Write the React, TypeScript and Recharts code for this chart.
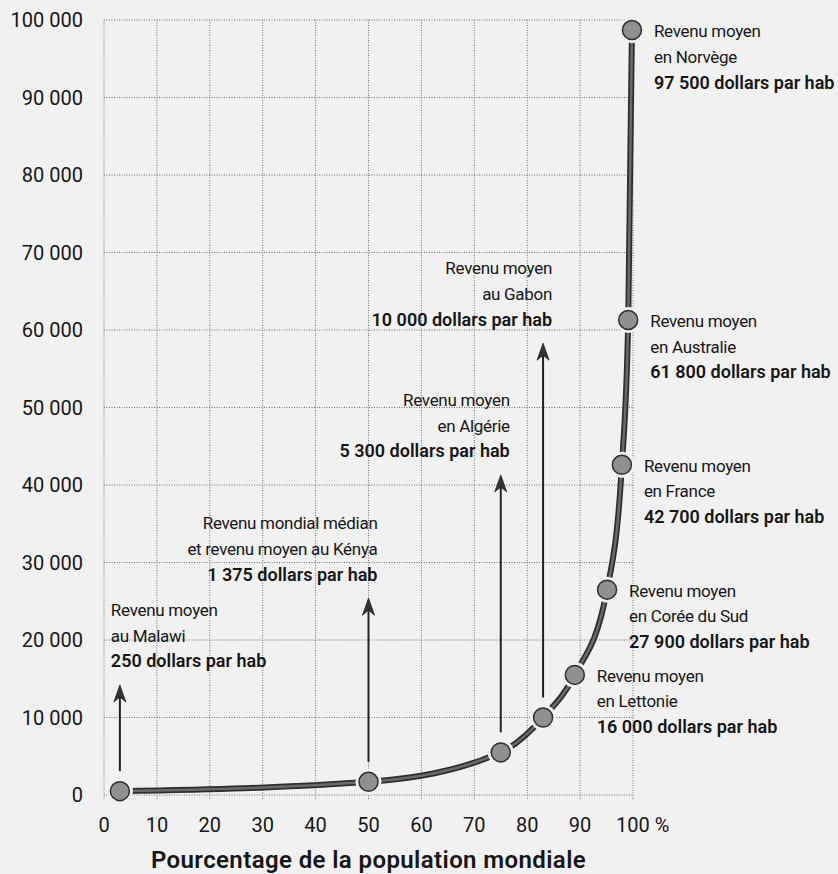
import React from 'react';
import { ComposedChart, Line, XAxis, YAxis, CartesianGrid, ReferenceLine, ReferenceDot } from 'recharts';

// ---- data ----
const countries = ['Malawi', 'Kénya', 'Algérie', 'Gabon', 'Lettonie', 'Corée du Sud', 'France', 'Australie', 'Norvège'];
const populationPct = [3, 50, 75, 83, 89, 95.1, 97.9, 99.1, 99.8];
const incomeValues = [500, 1700, 5500, 10000, 15500, 26500, 42600, 61300, 98700];
// arrow tips (value) for the four first points
const arrowTipValues = [14200, 25400, 41300, 58300];
const labelLines = [
  ['Revenu moyen', 'au Malawi', '250 dollars par hab'],
  ['Revenu mondial médian', 'et revenu moyen au Kénya', '1 375 dollars par hab'],
  ['Revenu moyen', 'en Algérie', '5 300 dollars par hab'],
  ['Revenu moyen', 'au Gabon', '10 000 dollars par hab'],
  ['Revenu moyen', 'en Lettonie', '16 000 dollars par hab'],
  ['Revenu moyen', 'en Corée du Sud', '27 900 dollars par hab'],
  ['Revenu moyen', 'en France', '42 700 dollars par hab'],
  ['Revenu moyen', 'en Australie', '61 800 dollars par hab'],
  ['Revenu moyen', 'en Norvège', '97 500 dollars par hab'],
];
const xTicks = [0, 10, 20, 30, 40, 50, 60, 70, 80, 90, 100];
const yTicks = [0, 10000, 20000, 30000, 40000, 50000, 60000, 70000, 80000, 90000, 100000];
const xTitle = 'Pourcentage de la population mondiale';

const data = populationPct.map((x, i) => ({ x, y: incomeValues[i], name: countries[i] }));

const BG = '#f1f1f1';
const FONT = 'Roboto, "Noto Sans", sans-serif';
const TEXT = '#161616';
const LINE_H = 25.5;

function LabelBlock({ x, y, lines, anchor }: { x: number; y: number; lines: string[]; anchor: 'start' | 'end' }) {
  return (
    <g>
      {lines.map((t, i) => (
        <text
          key={i}
          x={x}
          y={y + i * LINE_H}
          dy="0.36em"
          textAnchor={anchor}
          fontFamily={FONT}
          fontSize={i === 2 ? 18 : 17}
          fontWeight={i === 2 ? 600 : 400}
          letterSpacing={i === 2 ? 0 : -0.3}
          fill={TEXT}
        >
          {t}
        </text>
      ))}
    </g>
  );
}

const makeArrowShape = (idx: number) => (p: any) => {
  const x = p.x1;
  const yBottom = Math.max(p.y1, p.y2);
  const yTip = Math.min(p.y1, p.y2);
  const lineStart = yBottom - 20;
  const anchor: 'start' | 'end' = idx === 0 ? 'start' : 'end';
  const tx = idx === 0 ? x - 9 : x + 9;
  const lastCenter = yTip - 24;
  return (
    <g>
      <line x1={x} y1={lineStart} x2={x} y2={yTip + 10} stroke="#222" strokeWidth={2} />
      <path d={`M${x},${yTip} L${x - 6},${yTip + 17} L${x},${yTip + 12} L${x + 6},${yTip + 17} Z`} fill="#333" stroke="#222" strokeWidth={0.8} />
      <LabelBlock x={tx} y={lastCenter - 2 * LINE_H} lines={labelLines[idx]} anchor={anchor} />
    </g>
  );
};

const makeRightLabel = (idx: number) => (p: any) => (
  <LabelBlock x={p.cx + 22} y={p.cy + 1} lines={labelLines[idx]} anchor="start" />
);

const renderDot = (props: any) => {
  const { cx, cy, index } = props;
  return (
    <g key={`dot-${index}`}>
      <circle cx={cx} cy={cy} r={13} fill={BG} />
      <circle cx={cx} cy={cy} r={9.5} fill="#909090" stroke="#2e2e2e" strokeWidth={1.5} />
    </g>
  );
};

const XTick = (props: any) => {
  const { x, y, payload } = props;
  const v = payload.value;
  if (v === 100) {
    return (
      <text x={x - 17} y={y} dy="0.71em" textAnchor="start" fontFamily={FONT} fontSize={20} fill={TEXT}>
        100 %
      </text>
    );
  }
  return (
    <text x={x} y={y} dy="0.71em" textAnchor="middle" fontFamily={FONT} fontSize={20} fill={TEXT}>
      {String(v)}
    </text>
  );
};

const yFormat = (v: number) => (v === 0 ? '0' : `${Math.round(v / 1000)} 000`);

const XTitle = (props: any) => {
  const vb = props.viewBox || {};
  return (
    <text
      x={vb.x + vb.width / 2}
      y={vb.y + 73}
      textAnchor="middle"
      fontFamily={FONT}
      fontSize={24}
      fontWeight={600}
      letterSpacing={0.4}
      fill={TEXT}
    >
      {xTitle}
    </text>
  );
};

export default function App() {
  return (
    <div style={{ position: 'absolute', left: 0, top: 0, width: 838, height: 874, background: BG }}>
      <ComposedChart width={838} height={874} data={data} margin={{ top: 20, right: 205, bottom: 0, left: 0 }}>
        <CartesianGrid stroke="#707070" strokeDasharray="1 1.5" strokeWidth={1} />
        <XAxis
          dataKey="x"
          type="number"
          domain={[0, 100]}
          ticks={xTicks}
          interval={0}
          height={79}
          axisLine={false}
          tickLine={{ stroke: '#707070', strokeDasharray: '1 1.5' }}
          tickSize={4}
          tickMargin={19}
          tick={<XTick />}
          label={<XTitle />}
        />
        <YAxis
          type="number"
          domain={[0, 100000]}
          ticks={yTicks}
          interval={0}
          width={104}
          axisLine={false}
          tickLine={false}
          tickSize={0}
          tickMargin={21}
          tickFormatter={yFormat}
          tick={{ fontFamily: FONT, fontSize: 20, fill: TEXT }}
        />
        <Line
          dataKey="y"
          type="monotone"
          stroke="#2e2e2e"
          strokeWidth={6}
          dot={false}
          activeDot={false}
          isAnimationActive={false}
        />
        <Line
          dataKey="y"
          type="monotone"
          stroke="#6a6a6a"
          strokeWidth={2.5}
          dot={renderDot}
          activeDot={false}
          isAnimationActive={false}
        />
        {arrowTipValues.map((tip, i) => (
          <ReferenceLine
            key={`arrow-${i}`}
            segment={[
              { x: populationPct[i], y: incomeValues[i] },
              { x: populationPct[i], y: tip },
            ]}
            shape={makeArrowShape(i)}
          />
        ))}
        {populationPct.slice(4).map((px, j) => (
          <ReferenceDot
            key={`lab-${j}`}
            x={px}
            y={incomeValues[j + 4]}
            r={0}
            ifOverflow="visible"
            shape={makeRightLabel(j + 4)}
          />
        ))}
      </ComposedChart>
    </div>
  );
}
